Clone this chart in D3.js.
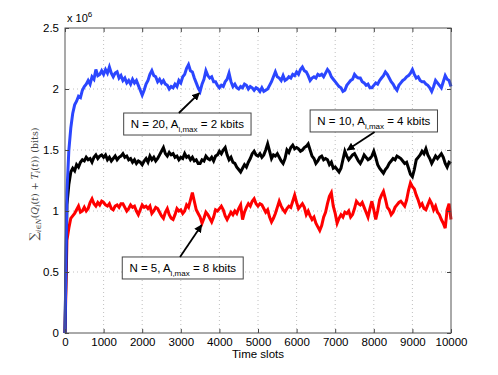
<!DOCTYPE html>
<html>
<head>
<meta charset="utf-8">
<script src="https://cdn.jsdelivr.net/npm/d3@7"></script>
<style>
  body { margin: 0; background: #fff; }
  text { font-family: "Liberation Sans", Arial, sans-serif; }
</style>
</head>
<body>
<svg id="chart" width="498" height="375"></svg>
<script>
// time slot spacing of the sampled values below
var slotStep = 50;

// N = 20, A_i,max = 2 kbits  (x 10^6 bits)
var blueVals = [
  0, 1.15, 1.50, 1.68, 1.80, 1.87, 1.90, 1.94, 1.93, 1.99,
  2.02, 2.04, 2.07, 2.04, 2.10, 2.08, 2.16, 2.11, 2.12, 2.15,
  2.12, 2.16, 2.13, 2.18, 2.13, 2.10, 2.13, 2.14, 2.09, 2.11,
  2.07, 2.09, 2.05, 2.07, 2.04, 2.08, 2.05, 2.07, 2.03, 1.99,
  1.95, 1.99, 2.04, 2.07, 2.12, 2.15, 2.11, 2.10, 2.06, 2.08,
  2.05, 2.07, 2.04, 2.03, 2.00, 2.02, 2.01, 2.04, 2.02, 2.07,
  2.05, 2.10, 2.12, 2.17, 2.20, 2.15, 2.14, 2.09, 2.05, 2.01,
  1.98, 2.04, 2.08, 2.15, 2.11, 2.09, 2.10, 2.06, 2.06, 2.03,
  2.01, 2.03, 2.02, 2.06, 2.08, 2.13, 2.06, 2.02, 2.04, 2.01,
  2.00, 2.02, 2.01, 2.04, 2.03, 2.00, 2.02, 2.01, 1.99, 2.01,
  2.00, 1.98, 2.01, 1.98, 1.99, 2.00, 2.03, 2.06, 2.10, 2.14,
  2.10, 2.09, 2.07, 2.11, 2.07, 2.08, 2.10, 2.09, 2.12, 2.11,
  2.14, 2.12, 2.16, 2.18, 2.15, 2.14, 2.11, 2.07, 2.09, 2.10,
  2.09, 2.12, 2.11, 2.12, 2.10, 2.13, 2.16, 2.14, 2.10, 2.08,
  2.06, 2.04, 2.02, 2.01, 1.98, 1.99, 2.03, 2.05, 2.07, 2.08,
  2.12, 2.10, 2.09, 2.09, 2.06, 2.05, 2.03, 2.04, 2.01, 2.01,
  2.03, 2.05, 2.04, 2.07, 2.09, 2.11, 2.14, 2.12, 2.09, 2.06,
  2.04, 2.01, 1.99, 2.03, 2.05, 2.07, 2.08, 2.10, 2.11, 2.13,
  2.16, 2.12, 2.09, 2.10, 2.07, 2.06, 2.06, 2.04, 2.03, 2.01,
  1.98, 2.02, 2.07, 2.05, 2.03, 2.01, 2.06, 2.11, 2.08, 2.07,
  2.02
];

// N = 10, A_i,max = 4 kbits
var blackVals = [
  0, 1.05, 1.22, 1.32, 1.35, 1.33, 1.38, 1.36, 1.40, 1.42,
  1.41, 1.44, 1.42, 1.43, 1.40, 1.44, 1.46, 1.43, 1.45, 1.46,
  1.44, 1.46, 1.42, 1.44, 1.41, 1.43, 1.45, 1.42, 1.44, 1.45,
  1.47, 1.44, 1.45, 1.42, 1.43, 1.40, 1.42, 1.39, 1.41, 1.40,
  1.38, 1.41, 1.43, 1.40, 1.45, 1.42, 1.44, 1.41, 1.43, 1.46,
  1.49, 1.52, 1.47, 1.45, 1.48, 1.46, 1.47, 1.44, 1.45, 1.42,
  1.44, 1.43, 1.47, 1.44, 1.45, 1.42, 1.44, 1.41, 1.42, 1.39,
  1.39, 1.42, 1.41, 1.45, 1.43, 1.42, 1.44, 1.41, 1.45, 1.46,
  1.49, 1.47, 1.50, 1.52, 1.46, 1.42, 1.44, 1.40, 1.39, 1.36,
  1.34, 1.32, 1.35, 1.38, 1.36, 1.40, 1.43, 1.47, 1.49, 1.46,
  1.45, 1.47, 1.44, 1.46, 1.50, 1.55, 1.49, 1.43, 1.46, 1.45,
  1.47, 1.44, 1.41, 1.39, 1.43, 1.50, 1.48, 1.52, 1.54, 1.51,
  1.52, 1.51, 1.49, 1.50, 1.52, 1.53, 1.55, 1.50, 1.45, 1.43,
  1.39, 1.41, 1.44, 1.45, 1.42, 1.43, 1.42, 1.38, 1.40, 1.35,
  1.36, 1.34, 1.32, 1.35, 1.42, 1.49, 1.45, 1.42, 1.44, 1.46,
  1.47, 1.44, 1.41, 1.39, 1.42, 1.46, 1.44, 1.42, 1.43, 1.45,
  1.49, 1.44, 1.38, 1.35, 1.33, 1.31, 1.34, 1.36, 1.39, 1.41,
  1.43, 1.42, 1.45, 1.44, 1.43, 1.41, 1.39, 1.40, 1.35, 1.30,
  1.28, 1.34, 1.42, 1.44, 1.46, 1.49, 1.47, 1.51, 1.46, 1.43,
  1.39, 1.42, 1.45, 1.43, 1.45, 1.47, 1.44, 1.39, 1.36, 1.40,
  1.39
];

// N = 5, A_i,max = 8 kbits
var redVals = [
  0, 0.76, 0.86, 0.94, 0.96, 0.98, 1.01, 1.04, 0.99, 1.00,
  1.03, 1.00, 1.02, 1.07, 1.10, 1.06, 1.04, 1.07, 1.05, 1.08,
  1.07, 1.05, 1.04, 1.06, 1.02, 1.01, 1.04, 1.05, 1.03, 1.06,
  1.06, 1.03, 1.00, 1.02, 1.05, 1.03, 1.04, 1.00, 0.97, 1.01,
  1.05, 1.03, 1.04, 1.02, 1.04, 0.98, 1.00, 1.03, 1.02, 0.99,
  0.96, 0.94, 0.99, 1.02, 0.97, 0.94, 0.93, 0.97, 1.02, 1.00,
  1.01, 0.98, 1.00, 1.05, 1.03, 1.09, 1.15, 1.08, 1.01, 0.98,
  0.95, 0.90, 0.94, 0.99, 0.97, 0.94, 0.91, 0.95, 1.01, 1.00,
  1.02, 1.04, 1.01, 0.96, 0.93, 0.96, 0.99, 0.97, 1.00, 0.98,
  1.02, 1.05, 0.93, 0.99, 1.03, 1.06, 1.04, 1.08, 1.10, 1.06,
  1.04, 1.06, 1.05, 1.02, 0.99, 1.01, 0.95, 0.91, 0.94, 0.98,
  1.03, 1.08, 1.04, 1.01, 0.99, 1.02, 1.04, 1.03, 1.08, 1.13,
  1.07, 1.02, 1.04, 1.06, 1.03, 0.97, 1.00, 0.96, 0.93, 0.95,
  0.90, 0.87, 0.84, 0.88, 0.95, 0.99, 1.06, 1.12, 1.15, 1.04,
  0.98, 0.90, 0.94, 0.97, 0.95, 0.99, 0.98, 1.00, 0.95, 0.97,
  1.02, 1.08, 1.06, 1.05, 1.07, 1.03, 0.99, 0.95, 1.02, 1.08,
  1.01, 0.93, 1.00, 1.09, 1.13, 1.16, 1.10, 1.03, 1.01, 0.97,
  0.99, 1.03, 1.05, 1.07, 1.08, 1.06, 1.04, 1.09, 1.17, 1.23,
  1.20, 1.18, 1.13, 1.09, 1.04, 1.06, 1.02, 1.01, 1.05, 1.09,
  1.06, 1.01, 1.04, 0.99, 0.97, 0.93, 0.90, 0.86, 1.01, 1.06,
  0.93
];

var xTicks = [0, 1000, 2000, 3000, 4000, 5000, 6000, 7000, 8000, 9000, 10000];
var yTicks = [0, 0.5, 1, 1.5, 2, 2.5];

// text boxes: label, box centre (slot, value), arrow tail slot, arrow head (slot, value)
var notes = [
  { n: 20, a: 2, bx: 3170, by: 1.713, tailT: 2950, headT: 3480, headV: 1.967 },
  { n: 10, a: 4, bx: 8000, by: 1.738, tailT: 8020, headT: 7310, headV: 1.50 },
  { n: 5,  a: 8, bx: 3050, by: 0.533, tailT: 2980, headT: 3540, headV: 0.885 }
];

var margin = { top: 28, right: 47, bottom: 42, left: 65 },
    width = 498 - margin.left - margin.right,
    height = 375 - margin.top - margin.bottom;

var svg = d3.select("#chart");
var g = svg.append("g").attr("transform", "translate(" + margin.left + "," + margin.top + ")");

var x = d3.scaleLinear().domain([0, 10000]).range([0, width]);
var y = d3.scaleLinear().domain([0, 2.5]).range([height, 0]);

// dotted grid
g.append("g").selectAll("line").data(xTicks.slice(1, -1)).enter().append("line")
  .attr("x1", function(d) { return x(d); }).attr("x2", function(d) { return x(d); })
  .attr("y1", 0).attr("y2", height)
  .attr("stroke", "#b0b0b0").attr("stroke-width", 0.8).attr("stroke-dasharray", "1,3");
g.append("g").selectAll("line").data(yTicks.slice(1, -1)).enter().append("line")
  .attr("y1", function(d) { return y(d); }).attr("y2", function(d) { return y(d); })
  .attr("x1", 0).attr("x2", width)
  .attr("stroke", "#b0b0b0").attr("stroke-width", 0.8).attr("stroke-dasharray", "1,3");

// series
var line = d3.line()
  .x(function(d, i) { return x(i * slotStep); })
  .y(function(d) { return y(d); });

var series = [
  { vals: redVals, color: "#ff0000" },
  { vals: blackVals, color: "#000000" },
  { vals: blueVals, color: "#2b46ff" }
];
g.append("g").selectAll("path").data(series).enter().append("path")
  .attr("d", function(d) { return line(d.vals); })
  .attr("fill", "none")
  .attr("stroke", function(d) { return d.color; })
  .attr("stroke-width", 3)
  .attr("stroke-linejoin", "miter");

// axes (ticks inside, box on)
var xAxis = d3.axisBottom(x).tickValues(xTicks).tickSize(-4).tickPadding(5).tickFormat(d3.format("d"));
var yAxis = d3.axisLeft(y).tickValues(yTicks).tickSize(-4).tickPadding(6).tickFormat(function(d) { return d; });

g.append("g").attr("transform", "translate(0," + height + ")").call(xAxis);
g.append("g").call(yAxis);
g.append("g").call(d3.axisTop(x).tickValues(xTicks).tickSize(-4).tickFormat(""));
g.append("g").attr("transform", "translate(" + width + ",0)")
  .call(d3.axisRight(y).tickValues(yTicks).tickSize(-4).tickFormat(""));

g.selectAll(".domain").remove();
g.selectAll(".tick line").attr("stroke", "#444");
g.selectAll(".tick text").attr("fill", "#000").style("font-size", "11.5px")
  .style("font-family", "'Liberation Sans', Arial, sans-serif");

g.append("rect").attr("width", width).attr("height", height)
  .attr("fill", "none").attr("stroke", "#555").attr("stroke-width", 1);

// exponent label
var ex = g.append("text").attr("x", 2).attr("y", -6).style("font-size", "11px");
ex.append("tspan").text("x 10");
ex.append("tspan").attr("dy", -5).style("font-size", "8px").text("6");

// axis labels
svg.append("text")
  .attr("x", margin.left + width / 2).attr("y", 358)
  .attr("text-anchor", "middle").style("font-size", "11.5px").text("Time slots");

var yl = svg.append("text")
  .attr("transform", "translate(38,184) rotate(-90)")
  .attr("text-anchor", "middle")
  .attr("fill", "#444")
  .style("font-family", "'DejaVu Serif', 'Liberation Serif', serif")
  .style("font-size", "9.5px");
yl.append("tspan").style("font-size", "12px").text("\u2211");
yl.append("tspan").attr("dy", 3).style("font-size", "7px").style("font-style", "italic").text("i\u2208N");
yl.append("tspan").attr("dy", -3).text("(");
yl.append("tspan").style("font-style", "italic").text("Q");
yl.append("tspan").attr("dy", 2).style("font-size", "7px").style("font-style", "italic").text("i");
yl.append("tspan").attr("dy", -2).text("(");
yl.append("tspan").style("font-style", "italic").text("t");
yl.append("tspan").text(") + ");
yl.append("tspan").style("font-style", "italic").text("T");
yl.append("tspan").attr("dy", 2).style("font-size", "7px").style("font-style", "italic").text("i");
yl.append("tspan").attr("dy", -2).text("(");
yl.append("tspan").style("font-style", "italic").text("t");
yl.append("tspan").text(")) (bits)");

// annotations
svg.append("defs").append("marker")
  .attr("id", "head").attr("viewBox", "0 0 10 10")
  .attr("refX", 9).attr("refY", 5)
  .attr("markerWidth", 8).attr("markerHeight", 8)
  .attr("markerUnits", "userSpaceOnUse")
  .attr("orient", "auto")
  .append("path").attr("d", "M0,0 L10,5 L0,10 z").attr("fill", "#000");

var boxH = 22;
notes.forEach(function(nt) {
  var cx = x(nt.bx), cy = y(nt.by);
  var ng = g.append("g");
  var rect = ng.append("rect");
  var txt = ng.append("text").attr("x", cx).attr("y", cy + 4)
    .attr("text-anchor", "middle").style("font-size", "11.5px");
  txt.append("tspan").text("N = " + nt.n + ", A");
  txt.append("tspan").attr("dy", 4).style("font-size", "8px").text("i,max");
  txt.append("tspan").attr("dy", -4).text(" = " + nt.a + " kbits");
  var bw = txt.node().getBBox().width + 14;
  rect.attr("x", cx - bw / 2).attr("y", cy - boxH / 2)
    .attr("width", bw).attr("height", boxH)
    .attr("fill", "#fff").attr("stroke", "#444").attr("stroke-width", 1);

  // arrow from box edge to the curve
  var hx = x(nt.headT), hy = y(nt.headV);
  var sy = hy < cy ? cy - boxH / 2 : cy + boxH / 2;
  ng.append("line")
    .attr("x1", x(nt.tailT)).attr("y1", sy).attr("x2", hx).attr("y2", hy)
    .attr("stroke", "#000").attr("stroke-width", 1.8)
    .attr("marker-end", "url(#head)");
});
</script>
</body>
</html>
